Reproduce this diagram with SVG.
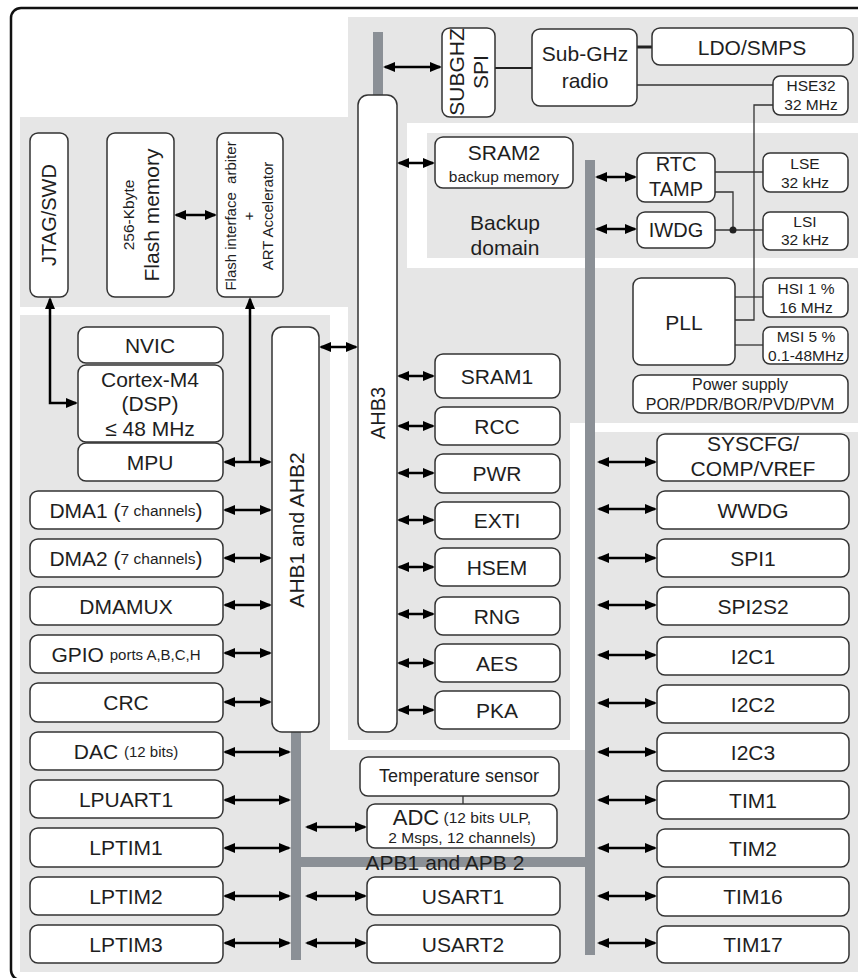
<svg xmlns="http://www.w3.org/2000/svg" width="858" height="978" viewBox="0 0 858 978">
<defs>
<marker id="ah" viewBox="0 0 12 10" refX="10" refY="5" markerWidth="12" markerHeight="10" markerUnits="userSpaceOnUse" orient="auto-start-reverse"><path d="M0,0 L12,5 L0,10 Z" fill="#000"/></marker>
<style>
.bg{fill:#e6e6e6}
.bus{fill:#8b9096}
.box{fill:#fff;stroke:#333;stroke-width:1.5}
.t{font-family:"Liberation Sans",Arial,sans-serif;fill:#1e1e1e;text-anchor:middle;dominant-baseline:central}
.l{font-size:21px}
.m{font-size:15.5px}
.arr{stroke:#000;stroke-width:2.5;fill:none;marker-start:url(#ah);marker-end:url(#ah)}
.arr1{stroke:#000;stroke-width:2.5;fill:none;marker-start:url(#ah)}
.wire{stroke:#333;stroke-width:1.3;fill:none}
</style>
</defs>
<rect x="0" y="0" width="858" height="978" fill="#fff"/>
<g id="regions">
<path class="bg" d="M348,17 H858 V423 H570 V740 H348 V307 H20 V117 H348 Z"/>
<path class="bg" d="M20,315 H330 V750 H585 V432 H858 V972 H20 Z"/>
<rect x="407" y="123" width="451" height="145" fill="#fff"/>
<rect class="bg" x="427" y="133" width="431" height="125"/>
<rect x="11" y="8" width="870" height="972" rx="10" fill="none" stroke="#111" stroke-width="2.5"/>
</g>
<g id="buses">
<rect class="bus" x="373" y="32" width="10" height="63"/>
<rect class="bus" x="585" y="160" width="10" height="795"/>
<rect class="bus" x="291" y="732" width="10" height="228"/>
<rect class="bus" x="301" y="857" width="284" height="10"/>
</g>
<g id="connectors">
<path class="arr" d="M50,299 V403 H76"/>
<path class="arr1" d="M250,299 V462"/>
<path class="arr" d="M225,462 H270"/>
<path class="arr" d="M176,215 H215"/>
<path class="arr" d="M321,347 H356"/>
<path class="arr" d="M385,67 H440"/>
<path class="arr" d="M399,163 H433"/>
<path class="arr" d="M597,177 H635"/>
<path class="arr" d="M597,229 H635"/>
<path class="arr" d="M399,376 H433"/>
<path class="arr" d="M399,426 H433"/>
<path class="arr" d="M399,473 H433"/>
<path class="arr" d="M399,520 H433"/>
<path class="arr" d="M399,567 H433"/>
<path class="arr" d="M399,614 H433"/>
<path class="arr" d="M399,663 H433"/>
<path class="arr" d="M399,710 H433"/>
<path class="arr" d="M225,510 H270"/>
<path class="arr" d="M225,558 H270"/>
<path class="arr" d="M225,605 H270"/>
<path class="arr" d="M225,653 H270"/>
<path class="arr" d="M225,702 H270"/>
<path class="arr" d="M225,752 H289"/>
<path class="arr" d="M225,800 H289"/>
<path class="arr" d="M225,848 H289"/>
<path class="arr" d="M225,896 H289"/>
<path class="arr" d="M225,943 H289"/>
<path class="arr" d="M307,827 H365"/>
<path class="arr" d="M307,896 H365"/>
<path class="arr" d="M307,943 H365"/>
<path class="arr" d="M599,462 H655"/>
<path class="arr" d="M599,509 H655"/>
<path class="arr" d="M599,558 H655"/>
<path class="arr" d="M599,605 H655"/>
<path class="arr" d="M599,655 H655"/>
<path class="arr" d="M599,703 H655"/>
<path class="arr" d="M599,752 H655"/>
<path class="arr" d="M599,800 H655"/>
<path class="arr" d="M599,848 H655"/>
<path class="arr" d="M599,896 H655"/>
<path class="arr" d="M599,943 H655"/>
<path d="M487,68 H532" stroke="#222" stroke-width="2" fill="none"/>
<path d="M637,47 H652" stroke="#222" stroke-width="3" fill="none"/>
<path class="wire" d="M637,85 H773"/>
<path class="wire" d="M773,105 H754 V320 H735"/>
<path class="wire" d="M715,172 H763"/>
<path class="wire" d="M715,192 H733 V230"/>
<path class="wire" d="M715,230 H763"/>
<circle cx="733" cy="230" r="3.5" fill="#222"/>
<path class="wire" d="M735,297 H763"/>
<path class="wire" d="M735,345 H763"/>
<path class="wire" d="M463,796 V804"/>
</g>
<g id="jtag"><rect class="box" x="30" y="133" width="38" height="164" rx="8"/><text class="t" font-size="20" transform="translate(49,215) rotate(-90)">JTAG/SWD</text></g>
<g id="flash"><rect class="box" x="107" y="133" width="67" height="164" rx="8"/><text class="t m" transform="translate(128,215) rotate(-90)">256-Kbyte</text><text class="t l" transform="translate(151,215) rotate(-90)">Flash memory</text></g>
<g id="flashif"><rect class="box" x="217" y="133" width="66" height="164" rx="8"/><text class="t" font-size="15" transform="translate(230,216) rotate(-90)" xml:space="preserve">Flash interface  arbiter</text><text class="t" font-size="15" transform="translate(248,216) rotate(-90)">+</text><text class="t" font-size="15" transform="translate(267,216) rotate(-90)">ART Accelerator</text></g>
<g id="nvic"><rect class="box" x="78" y="327" width="145" height="36" rx="8"/><text class="t l" x="150" y="345">NVIC</text></g>
<g id="cortex"><rect class="box" x="78" y="365" width="145" height="77" rx="8"/><text class="t l" x="150" y="379">Cortex-M4</text><text class="t l" x="150" y="403">(DSP)</text><text class="t l" x="150" y="428">≤ 48 MHz</text></g>
<g id="mpu"><rect class="box" x="78" y="443" width="145" height="38" rx="8"/><text class="t l" x="150" y="462">MPU</text></g>
<g id="dma1"><rect class="box" x="30" y="491" width="193" height="38" rx="8"/><text class="t l" x="126" y="510">DMA1 (<tspan class="m">7 channels</tspan>)</text></g>
<g id="dma2"><rect class="box" x="30" y="539" width="193" height="38" rx="8"/><text class="t l" x="126" y="558">DMA2 (<tspan class="m">7 channels</tspan>)</text></g>
<g id="dmamux"><rect class="box" x="30" y="587" width="193" height="38" rx="8"/><text class="t l" x="126" y="606">DMAMUX</text></g>
<g id="gpio"><rect class="box" x="30" y="635" width="193" height="38" rx="8"/><text class="t l" x="126" y="654">GPIO <tspan font-size="15">ports A,B,C,H</tspan></text></g>
<g id="crc"><rect class="box" x="30" y="683" width="193" height="39" rx="8"/><text class="t l" x="126" y="702">CRC</text></g>
<g id="dac"><rect class="box" x="30" y="732" width="193" height="38" rx="8"/><text class="t l" x="126" y="751">DAC <tspan font-size="15">(12 bits)</tspan></text></g>
<g id="lpuart1"><rect class="box" x="30" y="780" width="193" height="38" rx="8"/><text class="t l" x="126" y="799">LPUART1</text></g>
<g id="lptim1"><rect class="box" x="30" y="828" width="193" height="39" rx="8"/><text class="t l" x="126" y="847">LPTIM1</text></g>
<g id="lptim2"><rect class="box" x="30" y="877" width="193" height="38" rx="8"/><text class="t l" x="126" y="896">LPTIM2</text></g>
<g id="lptim3"><rect class="box" x="30" y="925" width="193" height="38" rx="8"/><text class="t l" x="126" y="944">LPTIM3</text></g>
<g id="ahb12"><rect class="box" x="272" y="327" width="47" height="405" rx="10"/><text class="t l" transform="translate(296,530) rotate(-90)">AHB1 and AHB2</text></g>
<g id="ahb3"><rect class="box" x="358" y="95" width="39" height="637" rx="10"/><text class="t" font-size="20" transform="translate(378,413) rotate(-90)">AHB3</text></g>
<g id="subghzspi"><rect class="box" x="442" y="28" width="53" height="89" rx="8"/><text class="t l" transform="translate(456,72) rotate(-90)">SUBGHZ</text><text class="t l" transform="translate(480,72) rotate(-90)">SPI</text></g>
<g id="radio"><rect class="box" x="532" y="29" width="105" height="77" rx="8"/><text class="t l" x="585" y="53">Sub-GHz</text><text class="t l" x="585" y="80">radio</text></g>
<g id="ldo"><rect class="box" x="652" y="28" width="201" height="37" rx="8"/><text class="t l" x="752" y="47">LDO/SMPS</text></g>
<g id="hse32"><rect class="box" x="773" y="76" width="75" height="39" rx="7"/><text class="t m" x="811" y="85">HSE32</text><text class="t m" x="811" y="104">32 MHz</text></g>
<g id="sram2"><rect class="box" x="435" y="137" width="138" height="51" rx="8"/><text class="t l" x="504" y="152">SRAM2</text><text class="t m" x="504" y="176">backup memory</text></g>
<g id="backup"><text class="t l" x="505" y="222">Backup</text><text class="t l" x="505" y="247">domain</text></g>
<g id="rtc"><rect class="box" x="637" y="153" width="78" height="49" rx="8"/><text class="t" font-size="20" x="676" y="164">RTC</text><text class="t" font-size="20" x="676" y="189">TAMP</text></g>
<g id="iwdg"><rect class="box" x="637" y="212" width="78" height="36" rx="8"/><text class="t" font-size="20" x="676" y="230">IWDG</text></g>
<g id="lse"><rect class="box" x="763" y="153" width="85" height="39" rx="7"/><text class="t m" x="805" y="163">LSE</text><text class="t m" x="805" y="182">32 kHz</text></g>
<g id="lsi"><rect class="box" x="763" y="212" width="85" height="38" rx="7"/><text class="t m" x="805" y="221">LSI</text><text class="t m" x="805" y="239">32 kHz</text></g>
<g id="pll"><rect class="box" x="633" y="278" width="102" height="87" rx="8"/><text class="t l" x="684" y="322">PLL</text></g>
<g id="hsi"><rect class="box" x="763" y="278" width="85" height="39" rx="7"/><text class="t m" x="806" y="288">HSI 1 %</text><text class="t m" x="806" y="307">16 MHz</text></g>
<g id="msi"><rect class="box" x="763" y="327" width="85" height="37" rx="7"/><text class="t m" x="806" y="336">MSI 5 %</text><text class="t m" x="806" y="355">0.1-48MHz</text></g>
<g id="power"><rect class="box" x="633" y="375" width="215" height="38" rx="8"/><text class="t" font-size="16" x="740" y="384">Power supply</text><text class="t" font-size="16" x="740" y="404">POR/PDR/BOR/PVD/PVM</text></g>
<g id="sram1"><rect class="box" x="435" y="354" width="125" height="44" rx="8"/><text class="t l" x="497" y="376">SRAM1</text></g>
<g id="rcc"><rect class="box" x="435" y="407" width="125" height="38" rx="8"/><text class="t l" x="497" y="426">RCC</text></g>
<g id="pwr"><rect class="box" x="435" y="454" width="125" height="39" rx="8"/><text class="t l" x="497" y="473">PWR</text></g>
<g id="exti"><rect class="box" x="435" y="502" width="125" height="37" rx="8"/><text class="t l" x="497" y="520">EXTI</text></g>
<g id="hsem"><rect class="box" x="435" y="548" width="125" height="38" rx="8"/><text class="t l" x="497" y="567">HSEM</text></g>
<g id="rng"><rect class="box" x="435" y="597" width="125" height="38" rx="8"/><text class="t l" x="497" y="616">RNG</text></g>
<g id="aes"><rect class="box" x="435" y="644" width="125" height="38" rx="8"/><text class="t l" x="497" y="663">AES</text></g>
<g id="pka"><rect class="box" x="435" y="691" width="125" height="38" rx="8"/><text class="t l" x="497" y="710">PKA</text></g>
<g id="temp"><rect class="box" x="360" y="757" width="199" height="39" rx="8"/><text class="t" font-size="18" x="459" y="776">Temperature sensor</text></g>
<g id="adc"><rect class="box" x="367" y="804" width="190" height="44" rx="8"/><text class="t" font-size="15.5" x="462" y="817"><tspan font-size="22">ADC</tspan> (12 bits ULP,</text><text class="t" font-size="15.5" x="462" y="837">2 Msps, 12 channels)</text></g>
<g id="apb"><text class="t l" x="445" y="862" fill="#333">APB1 and APB 2</text></g>
<g id="usart1"><rect class="box" x="367" y="877" width="193" height="38" rx="8"/><text class="t l" x="463" y="896">USART1</text></g>
<g id="usart2"><rect class="box" x="367" y="925" width="193" height="38" rx="8"/><text class="t l" x="463" y="944">USART2</text></g>
<g id="syscfg"><rect class="box" x="657" y="434" width="192" height="47" rx="8"/><text class="t l" x="753" y="443">SYSCFG/</text><text class="t l" x="753" y="468">COMP/VREF</text></g>
<g id="wwdg"><rect class="box" x="657" y="491" width="192" height="38" rx="8"/><text class="t l" x="753" y="510">WWDG</text></g>
<g id="spi1"><rect class="box" x="657" y="539" width="192" height="38" rx="8"/><text class="t l" x="753" y="558">SPI1</text></g>
<g id="spi2s2"><rect class="box" x="657" y="587" width="192" height="38" rx="8"/><text class="t l" x="753" y="606">SPI2S2</text></g>
<g id="i2c1"><rect class="box" x="657" y="637" width="192" height="38" rx="8"/><text class="t l" x="753" y="656">I2C1</text></g>
<g id="i2c2"><rect class="box" x="657" y="685" width="192" height="38" rx="8"/><text class="t l" x="753" y="704">I2C2</text></g>
<g id="i2c3"><rect class="box" x="657" y="733" width="192" height="38" rx="8"/><text class="t l" x="753" y="752">I2C3</text></g>
<g id="tim1"><rect class="box" x="657" y="781" width="192" height="38" rx="8"/><text class="t l" x="753" y="800">TIM1</text></g>
<g id="tim2"><rect class="box" x="657" y="829" width="192" height="38" rx="8"/><text class="t l" x="753" y="848">TIM2</text></g>
<g id="tim16"><rect class="box" x="657" y="877" width="192" height="39" rx="8"/><text class="t l" x="753" y="896">TIM16</text></g>
<g id="tim17"><rect class="box" x="657" y="926" width="192" height="37" rx="8"/><text class="t l" x="753" y="944">TIM17</text></g>
</svg>
